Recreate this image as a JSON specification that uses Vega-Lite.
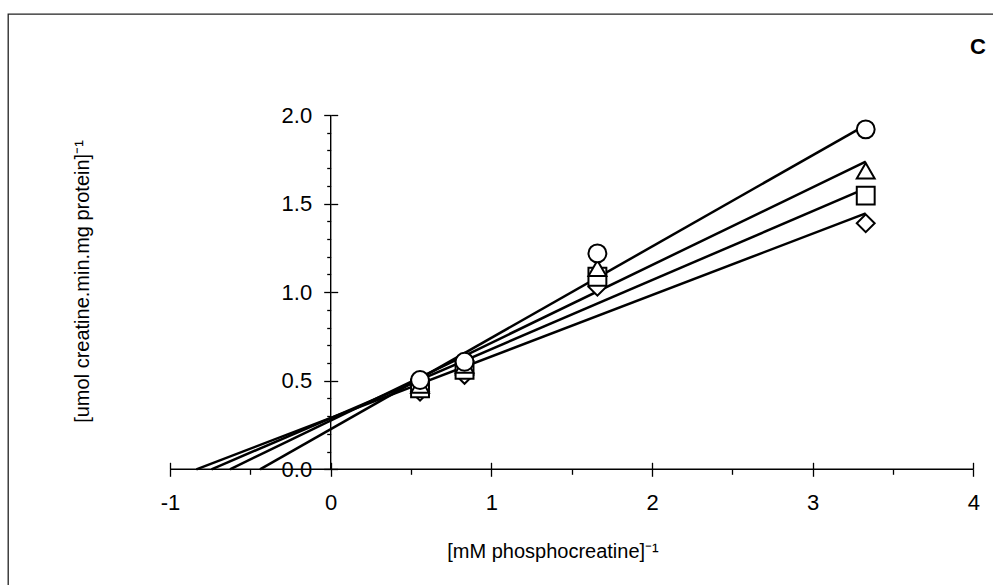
{
  "$schema": "https://vega.github.io/schema/vega-lite/v6.json",
  "autosize": {"type": "none"},
  "padding": {"left": 8, "top": 14, "right": 0, "bottom": 0},
  "width": 990,
  "height": 576,
  "background": "white",
  "title": {"text": "C", "anchor": "end", "frame": "group", "orient": "top", "offset": 0, "baseline": "middle", "dx": -12, "dy": 55, "fontSize": 22, "fontWeight": "bold", "font": "Liberation Sans", "color": "black"},
  "config": {
    "view": {"stroke": "#222", "strokeWidth": 1.3},
    "axis": {"labelFont": "Liberation Sans", "titleFont": "Liberation Sans", "labelColor": "black", "titleColor": "black", "tickColor": "black", "tickWidth": 1.3, "grid": false, "domain": false, "labelOverlap": false, "labelFlush": false, "titleFontWeight": "normal"}
  },
  "datasets": {
    "lines": [
      {"series": "circle", "x": -0.44, "y": 0},
      {"series": "circle", "x": 3.33, "y": 1.943},
      {"series": "triangle", "x": -0.627, "y": 0},
      {"series": "triangle", "x": 3.33, "y": 1.737},
      {"series": "square", "x": -0.742, "y": 0},
      {"series": "square", "x": 3.33, "y": 1.586},
      {"series": "diamond", "x": -0.836, "y": 0},
      {"series": "diamond", "x": 3.33, "y": 1.445}
    ],
    "points": [
      {"series": "diamond", "x": 0.556, "y": 0.438},
      {"series": "diamond", "x": 0.833, "y": 0.533},
      {"series": "diamond", "x": 1.66, "y": 1.031},
      {"series": "diamond", "x": 3.33, "y": 1.389},
      {"series": "square", "x": 0.556, "y": 0.457},
      {"series": "square", "x": 0.833, "y": 0.561},
      {"series": "square", "x": 1.66, "y": 1.087},
      {"series": "square", "x": 3.33, "y": 1.545},
      {"series": "triangle", "x": 0.556, "y": 0.476},
      {"series": "triangle", "x": 0.833, "y": 0.589},
      {"series": "triangle", "x": 1.66, "y": 1.135},
      {"series": "triangle", "x": 3.33, "y": 1.686},
      {"series": "circle", "x": 0.556, "y": 0.504},
      {"series": "circle", "x": 0.833, "y": 0.607},
      {"series": "circle", "x": 1.66, "y": 1.219},
      {"series": "circle", "x": 3.33, "y": 1.919}
    ],
    "axislines": [
      {"x": -1, "x2": 4, "y": 0, "y2": 0},
      {"x": 0, "x2": 0, "y": 0, "y2": 2}
    ]
  },
  "resolve": {"axis": {"x": "independent", "y": "independent"}},
  "layer": [
    {
      "data": {"name": "lines"},
      "mark": {"type": "line", "color": "black", "strokeWidth": 2.5},
      "encoding": {
        "x": {"field": "x", "type": "quantitative",
          "scale": {"domain": [-2.0085, 4.1533], "nice": false, "zero": false},
          "axis": {"orient": "bottom", "offset": -120.7, "values": [-1, 0, 1, 2, 3, 4], "tickSize": 7, "labelPadding": 16, "labelFontSize": 22,
            "labelExpr": "replace(datum.label, '\u2212', '-')",
            "title": "[mM phosphocreatine]\u207b\u00b9", "titleFontSize": 20, "titleX": 544.5, "titleY": 81.7, "titleAlign": "center", "titleBaseline": "middle"}},
        "y": {"field": "y", "type": "quantitative",
          "scale": {"domain": [-0.6813, 2.5702], "nice": false, "zero": false},
          "axis": {"orient": "left", "offset": -322.7, "values": [0, 0.5, 1, 1.5, 2], "format": ".1f", "tickSize": 7, "labelPadding": 12, "labelFontSize": 22, "labelBaseline": "middle",
            "title": "[umol creatine.min.mg protein]\u207b\u00b9", "titleFontSize": 20, "titleAngle": 270, "titleX": -248.7, "titleY": 267, "titleAlign": "center", "titleBaseline": "middle"}},
        "detail": {"field": "series"}
      }
    },
    {
      "data": {"name": "axislines"},
      "mark": {"type": "rule", "color": "black", "strokeWidth": 1.4},
      "encoding": {
        "x": {"field": "x", "type": "quantitative",
          "scale": {"domain": [-2.0085, 4.1533], "nice": false, "zero": false},
          "axis": {"orient": "bottom", "offset": -120.7, "values": [-1, 0, 1, 2, 3, 4], "tickSize": -7, "labels": false, "title": null}},
        "x2": {"field": "x2"},
        "y": {"field": "y", "type": "quantitative",
          "scale": {"domain": [-0.6813, 2.5702], "nice": false, "zero": false},
          "axis": {"orient": "left", "offset": -322.7, "values": [0, 0.5, 1, 1.5, 2], "tickSize": -7, "labels": false, "title": null}},
        "y2": {"field": "y2"}
      }
    },
    {
      "data": {"name": "points"},
      "mark": {"type": "point", "filled": false, "fill": "white", "fillOpacity": 1, "stroke": "black", "strokeWidth": 2, "opacity": 1, "size": 320},
      "encoding": {
        "x": {"field": "x", "type": "quantitative",
          "scale": {"domain": [-2.0085, 4.1533], "nice": false, "zero": false},
          "axis": {"orient": "bottom", "offset": -120.7, "values": [-0.5, 0.5, 1.5, 2.5, 3.5], "tickSize": 5, "labels": false, "title": null}},
        "y": {"field": "y", "type": "quantitative",
          "scale": {"domain": [-0.6813, 2.5702], "nice": false, "zero": false},
          "axis": {"orient": "left", "offset": -322.7, "values": [0.1, 0.2, 0.3, 0.4, 0.6, 0.7, 0.8, 0.9, 1.1, 1.2, 1.3, 1.4, 1.6, 1.7, 1.8, 1.9], "tickSize": 4, "labels": false, "title": null}},
        "shape": {"field": "series", "type": "nominal",
          "scale": {"domain": ["circle", "triangle", "square", "diamond"], "range": ["circle", "triangle-up", "square", "diamond"]},
          "legend": null}
      }
    }
  ]
}
